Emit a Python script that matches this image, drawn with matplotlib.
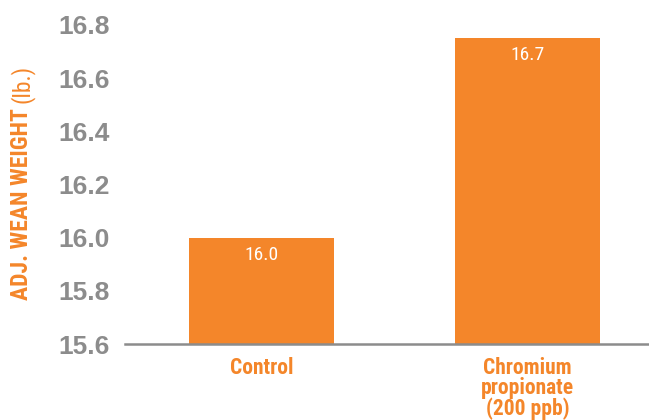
import matplotlib
matplotlib.use("Agg")
import matplotlib.pyplot as plt

# data
categories = ["Control", "Chromium\npropionate\n(200 ppb)"]
weights = [16.0, 16.75]
value_labels = ["16.0", "16.7"]
y_ticks = [15.6, 15.8, 16.0, 16.2, 16.4, 16.6, 16.8]

orange = "#F4862A"
gray = "#8C8C8C"
narrow = ["Roboto Condensed", "Barlow Condensed", "Archivo Narrow", "DejaVu Sans"]

fig = plt.figure(figsize=(6.49, 4.2), dpi=100)
ax = fig.add_axes([125 / 649, 76 / 420, 1 - 125 / 649, (344 - 25) / 420])

x = list(range(len(categories)))
bars = ax.bar(x, weights, width=0.545, color=orange, zorder=2)

ax.set_xlim(-0.513, 1.457)
ax.set_ylim(15.6, 16.8)
ax.set_yticks(y_ticks)
ax.set_yticklabels([f"{t:.1f}" for t in y_ticks], fontsize=19, fontweight="bold",
                   color=gray, family=["Liberation Sans", "DejaVu Sans"])
ax.tick_params(axis="y", length=0, pad=11)
ax.set_xticks(x)
ax.set_xticklabels(categories, fontsize=15.5, fontweight="bold", color=orange,
                   family=narrow, linespacing=0.92)
ax.tick_params(axis="x", length=0, pad=9)

for side in ["top", "right", "left"]:
    ax.spines[side].set_visible(False)
ax.spines["bottom"].set_color(gray)
ax.spines["bottom"].set_linewidth(1.8)
ax.spines["bottom"].set_zorder(3)

# value labels inside bars
for bar, lab in zip(bars, value_labels):
    ax.annotate(lab, xy=(bar.get_x() + bar.get_width() / 2, bar.get_height()),
                xytext=(0, -17), textcoords="offset pixels", ha="center", va="center",
                color="white", fontsize=14, family=narrow)

# y label: bold part plus "(lb.)" in regular weight
ylab = fig.text(22 / 649, (420 - 300) / 420, "ADJ. WEAN WEIGHT", rotation=90,
                ha="center", va="bottom", color=orange, fontsize=17,
                fontweight="bold", family=narrow)
fig.add_artist(matplotlib.text.Annotation(
    "(lb.)", xy=(0.5, 1.0), xycoords=ylab, xytext=(0, 5), textcoords="offset pixels",
    rotation=90, ha="center", va="bottom", color=orange, fontsize=17, family=narrow))

fig.savefig("out.png", dpi=100)
